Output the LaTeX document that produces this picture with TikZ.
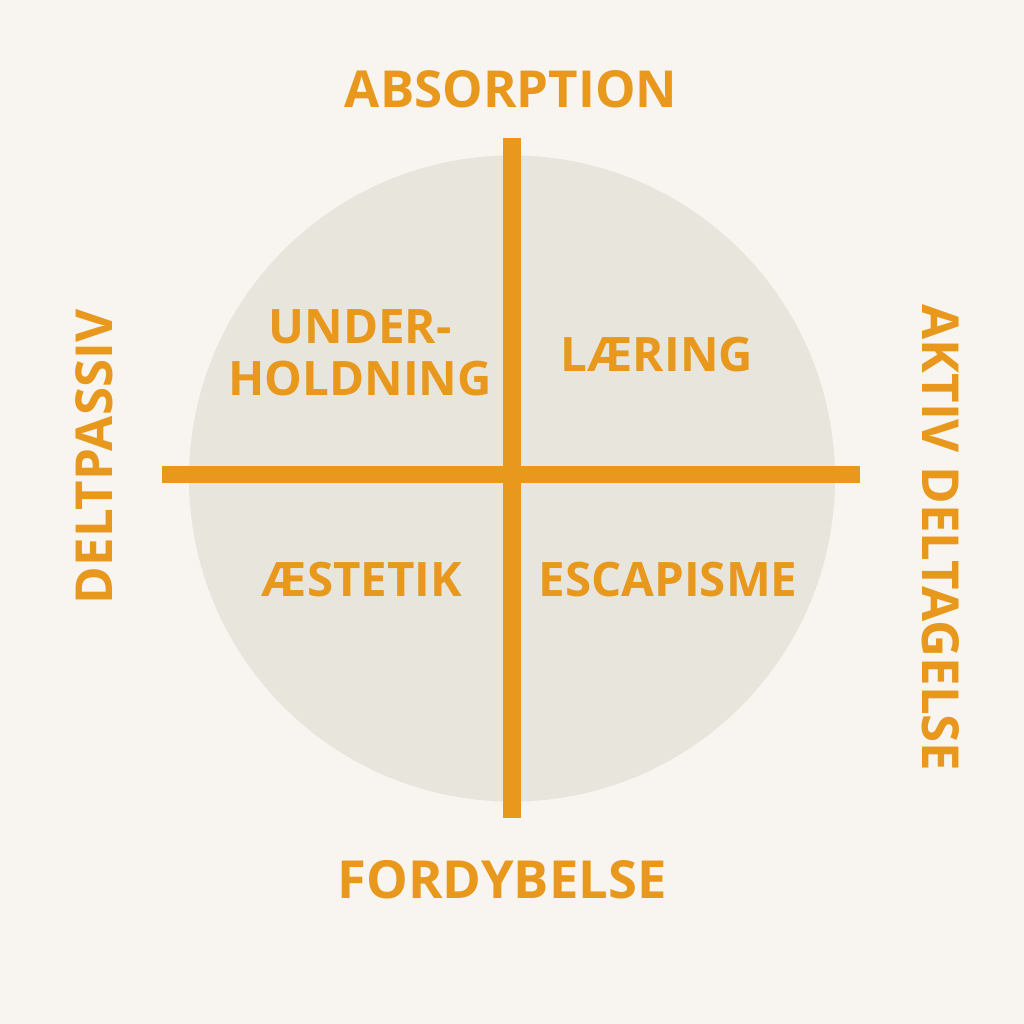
\documentclass[tikz,border=0pt]{standalone}
\usepackage{fontspec}
\setmainfont{Open Sans}
\definecolor{bgc}{HTML}{F8F5F0}
\definecolor{circc}{HTML}{E8E5DC}
\definecolor{orng}{HTML}{E8981C}
\begin{document}
\begin{tikzpicture}[x=1pt,y=-1pt,
  lbl/.style={text=orng,font=\bfseries\fontsize{51}{52}\selectfont,inner sep=0pt,anchor=center},
  qlbl/.style={text=orng,font=\bfseries\fontsize{47.5}{52}\selectfont,inner sep=0pt,anchor=center,align=center},
  bar/.style={fill=orng,draw=none}]
\fill[bgc] (0,0) rectangle (1024,1024);
\useasboundingbox (0,0) rectangle (1024,1024);
\node[circle,fill=circc,draw=none,minimum size=646pt,inner sep=0pt] (circ) at (512,478.5) {};
\fill[bar] (503,138) rectangle (521,818);
\fill[bar] (162,466) rectangle (860,483);
\node[lbl] (top) at (511,89) {ABSORPTION};
\node[lbl,font=\bfseries\fontsize{52.5}{52}\selectfont] (bot) at (502,880) {FORDYBELSE};
\node[lbl,rotate=90] (left) at (94,457) {DELTPASSIV};
\node[lbl,rotate=-90] (right) at (941,538) {AKTIV DELTAGELSE};
\node[qlbl] (q1) at (360,353) {UNDER-\\HOLDNING};
\node[qlbl] (q2) at (657,355) {LÆRING};
\node[qlbl] (q3) at (362,580) {ÆSTETIK};
\node[qlbl] (q4) at (668,580) {ESCAPISME};
\end{tikzpicture}
\end{document}
